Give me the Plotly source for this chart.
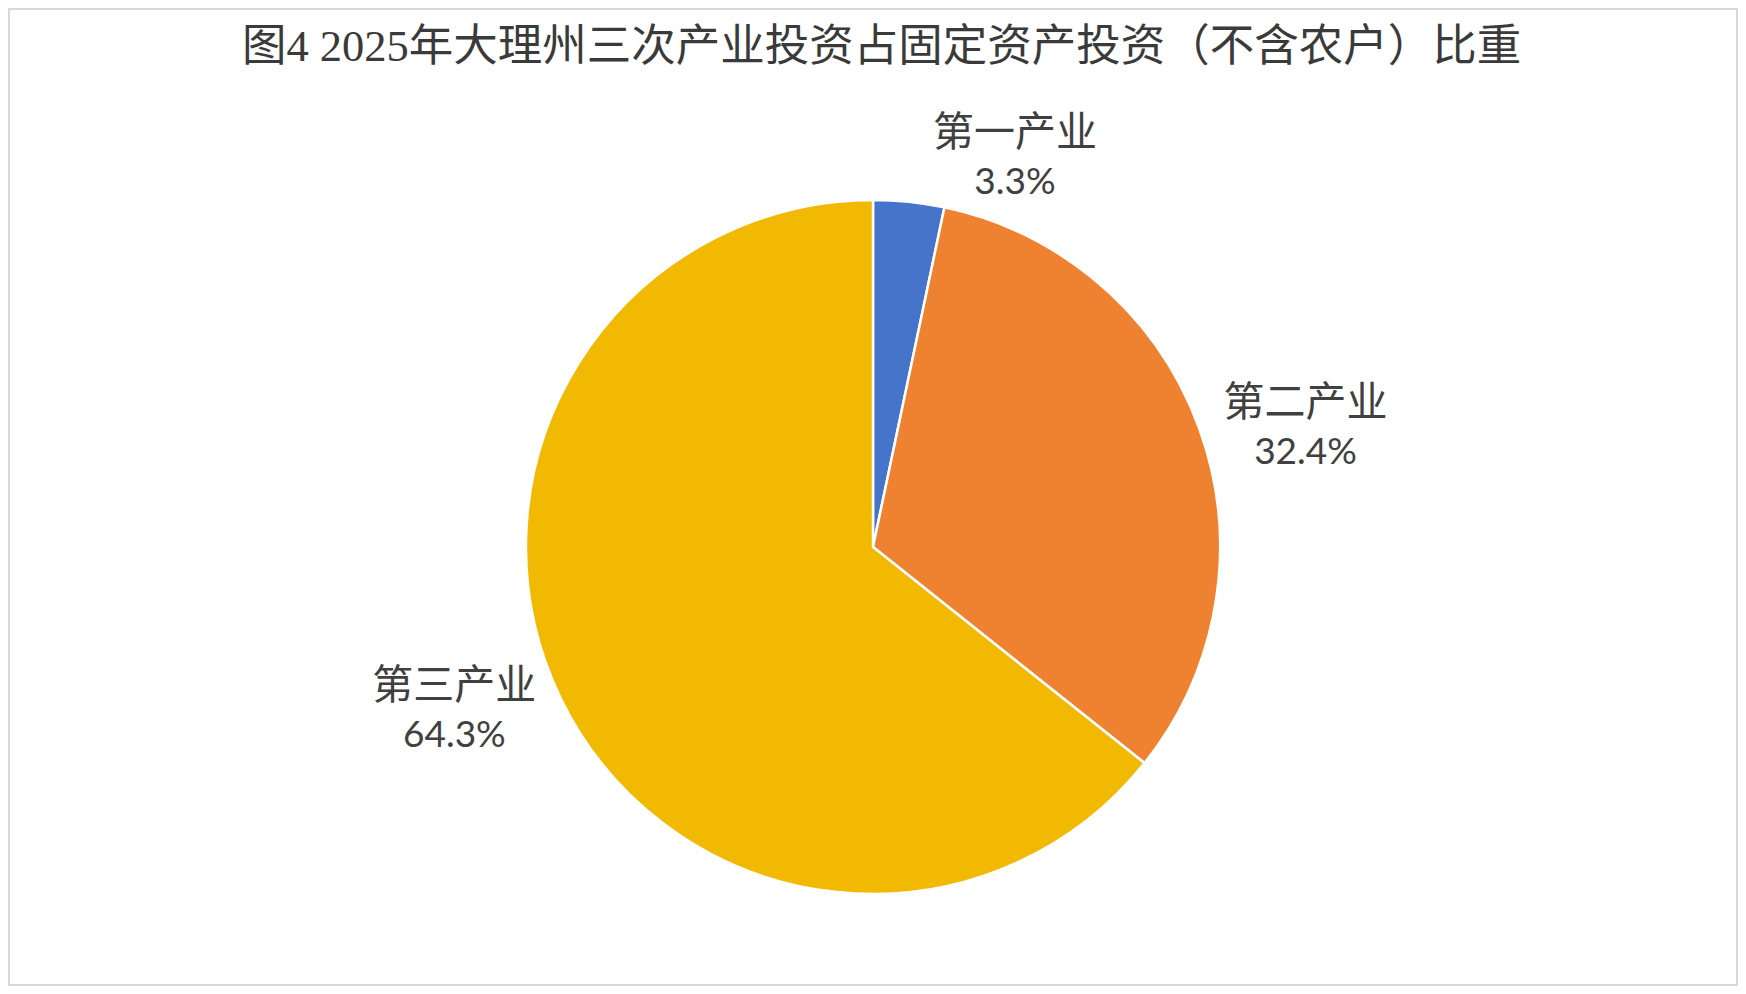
import plotly.graph_objects as go

# sector shares (%)
categories = ["第一产业", "第二产业", "第三产业"]
shares = [3.3, 32.4, 64.3]
colors = ["#4674CB", "#EF8231", "#F1B902"]

title_text = "图4 2025年大理州三次产业投资占固定资产投资（不含农户）比重"

fig = go.Figure()

# empty cartesian trace so the white plot area sits inside a grey paper edge (chart border)
fig.add_trace(go.Scatter(x=[], y=[], hoverinfo="skip", showlegend=False))

fig.add_trace(
    go.Pie(
        labels=categories,
        values=shares,
        sort=False,
        direction="clockwise",
        rotation=0,
        marker=dict(colors=colors, line=dict(color="white", width=2.5)),
        texttemplate="<span style='font-size:41px'>%{label}</span><br>%{value:.1f}%",
        textposition="outside",
        textfont=dict(family="Lato, Noto Sans CJK SC", size=37, color="#404040"),
        showlegend=False,
        hoverinfo="label+percent",
        domain=dict(x=[0.1, 0.9], y=[0.0924, 0.805]),
    )
)

# page body keeps an 8px margin, so the figure is a little smaller than the window
fig.update_layout(
    width=1730,
    height=978,
    margin=dict(l=2, r=2, t=2, b=2, autoexpand=False),
    paper_bgcolor="#D9D9D9",
    plot_bgcolor="white",
    xaxis=dict(visible=False, range=[0, 1], fixedrange=True),
    yaxis=dict(visible=False, range=[0, 1], fixedrange=True),
    title=dict(
        text=title_text,
        x=0.505,
        xanchor="center",
        y=0.962,
        yanchor="middle",
        font=dict(family="Liberation Serif, Noto Sans CJK SC", size=44.5, color="#3A3A3A"),
    ),
)

fig.write_html("out.html")
